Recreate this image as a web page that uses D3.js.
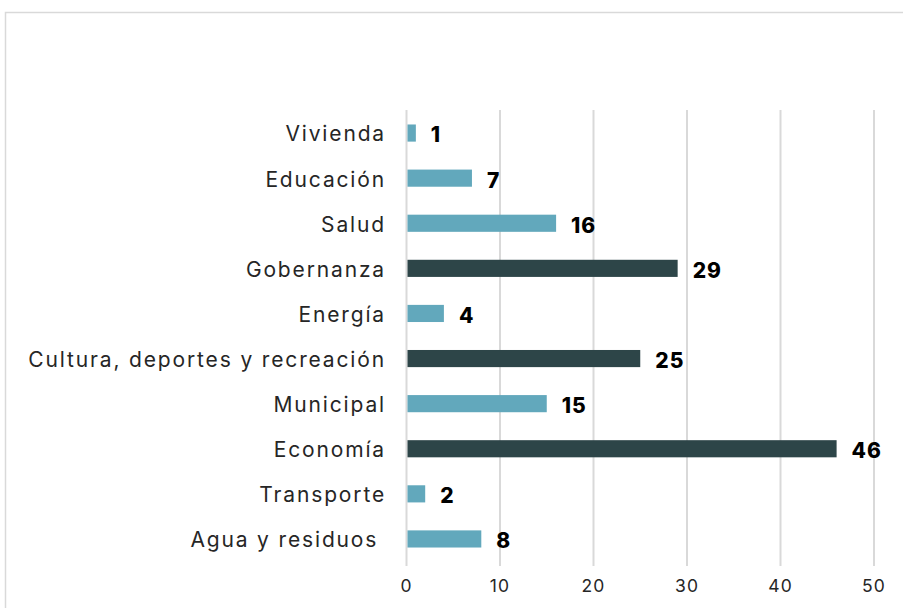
<html>
<head>
<meta charset="utf-8">
<script src="https://d3js.org/d3.v7.min.js"></script>
<style>
  body { margin: 0; background: #fff; }
  .grid line { stroke: #d9d9d9; stroke-width: 2px; }
  .cat { font-family: Inter, "Open Sans", sans-serif; font-size: 21px; letter-spacing: 1.85px; fill: #262626; }
  .val { font-family: Inter, "Open Sans", sans-serif; font-size: 21px; font-weight: 800; letter-spacing: 1px; fill: #000; }
  .tick-label { font-family: Inter, "Open Sans", sans-serif; font-size: 17.5px; letter-spacing: 1.2px; fill: #262626; }
</style>
</head>
<body>
<svg id="chart" width="903" height="608"></svg>
<script>
const categories = ["Vivienda", "Educación", "Salud", "Gobernanza", "Energía",
  "Cultura, deportes y recreación", "Municipal", "Economía", "Transporte", "Agua y residuos "];
const values = [1, 7, 16, 29, 4, 25, 15, 46, 2, 8];
const highlighted = ["Gobernanza", "Cultura, deportes y recreación", "Economía"];
const xTicks = [0, 10, 20, 30, 40, 50];

const svg = d3.select("#chart");

// outer frame
svg.append("rect")
  .attr("x", 5.5).attr("y", 12.5)
  .attr("width", 920).attr("height", 620)
  .attr("fill", "none").attr("stroke", "#d9d9d9").attr("stroke-width", 1.5);

const x = d3.scaleLinear().domain([0, 50]).range([406.5, 874]);
const y = d3.scaleBand().domain(categories).range([110.5, 561.5])
  .paddingInner(0.62).paddingOuter(0.31);

// gridlines
svg.append("g").attr("class", "grid")
  .selectAll("line").data(xTicks).enter()
  .append("line")
  .attr("x1", d => x(d)).attr("x2", d => x(d))
  .attr("y1", 110).attr("y2", 566);

// tick labels
svg.append("g").selectAll("text").data(xTicks).enter()
  .append("text")
  .attr("class", "tick-label")
  .attr("x", d => x(d)).attr("y", 592)
  .attr("text-anchor", "middle")
  .text(d => d);

const data = categories.map((c, i) => ({cat: c, val: values[i]}));

svg.append("g").selectAll("rect").data(data).enter()
  .append("rect")
  .attr("x", x(0) + 1)
  .attr("y", d => y(d.cat))
  .attr("width", d => x(d.val) - x(0) - 1)
  .attr("height", y.bandwidth())
  .attr("fill", d => highlighted.includes(d.cat) ? "#2d4548" : "#62a8bc");

// category labels
svg.append("g").selectAll("text").data(data).enter()
  .append("text")
  .attr("class", "cat")
  .attr("x", 386)
  .attr("y", d => y(d.cat) + y.bandwidth() / 2 + 1)
  .attr("dy", "0.35em")
  .attr("text-anchor", "end")
  .style("white-space", "pre")
  .text(d => d.cat);

// value labels
svg.append("g").selectAll("text").data(data).enter()
  .append("text")
  .attr("class", "val")
  .attr("x", d => x(d.val) + 15)
  .attr("y", d => y(d.cat) + y.bandwidth() / 2 + 2)
  .attr("dy", "0.35em")
  .text(d => d.val);
</script>
</body>
</html>
